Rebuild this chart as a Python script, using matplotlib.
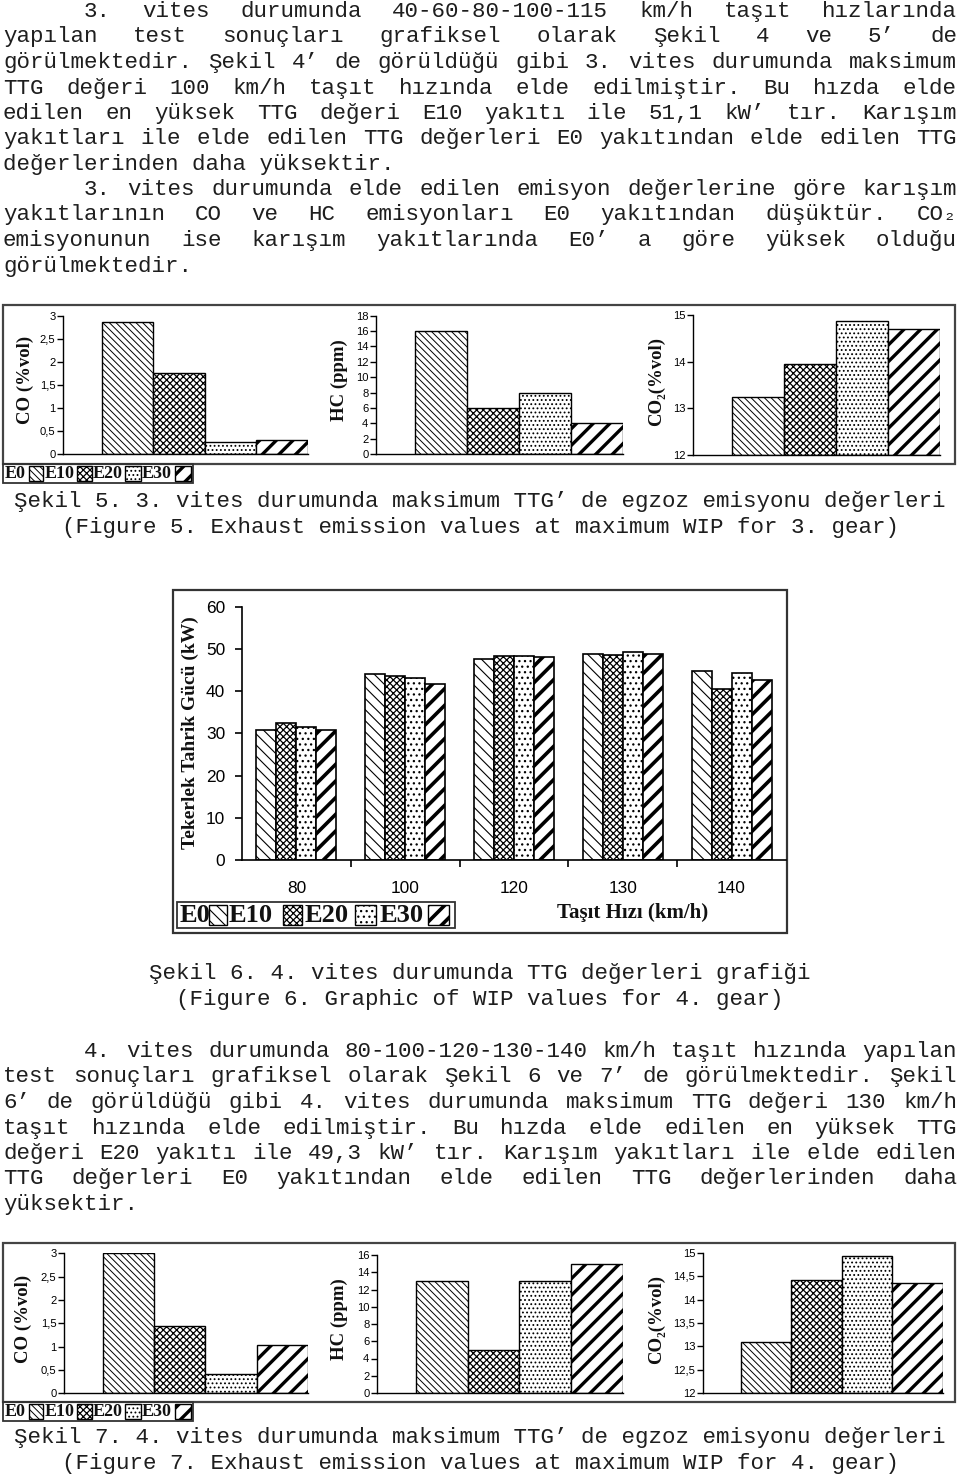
import matplotlib
matplotlib.use('Agg')
import matplotlib.pyplot as plt
from matplotlib.patches import Rectangle
import numpy as np

plt.rcParams['text.hinting'] = 'native'
plt.rcParams['text.hinting_factor'] = 8

# --- data ---
fuels = ['E0', 'E10', 'E20', 'E30']
speeds = ['80', '100', '120', '130', '140']

co_3 = [2.87, 1.76, 0.25, 0.30]
hc_3 = [16, 6, 8, 4]
co2_3 = [13.25, 13.96, 14.88, 14.71]

co_4 = [3.0, 1.44, 0.41, 1.03]
hc_4 = [13, 5, 13, 15]
co2_4 = [13.09, 14.43, 14.94, 14.35]

ttg_E0 = [30.75, 44.0, 47.6, 48.7, 44.7]
ttg_E10 = [32.4, 43.6, 48.4, 48.5, 40.6]
ttg_E20 = [31.6, 43.1, 48.4, 49.3, 44.3]
ttg_E30 = [30.75, 41.7, 48.0, 48.7, 42.7]

para1 = ["3. vites durumunda 40-60-80-100-115 km/h taşıt hızlarında",
         "yapılan test sonuçları grafiksel olarak Şekil 4 ve 5’ de",
         "görülmektedir. Şekil 4’ de görüldüğü gibi 3. vites durumunda maksimum",
         "TTG değeri 100 km/h taşıt hızında elde edilmiştir. Bu hızda elde",
         "edilen en yüksek TTG değeri E10 yakıtı ile 51,1 kW’ tır. Karışım",
         "yakıtları ile elde edilen TTG değerleri E0 yakıtından elde edilen TTG",
         "değerlerinden daha yüksektir."]
para2 = ["3. vites durumunda elde edilen emisyon değerlerine göre karışım",
         "yakıtlarının CO ve HC emisyonları E0 yakıtından düşüktür. CO₂",
         "emisyonunun ise karışım yakıtlarında E0’ a göre yüksek olduğu",
         "görülmektedir."]
para3 = ["4. vites durumunda 80-100-120-130-140 km/h taşıt hızında yapılan",
         "test sonuçları grafiksel olarak Şekil 6 ve 7’ de görülmektedir. Şekil",
         "6’ de görüldüğü gibi 4. vites durumunda maksimum TTG değeri 130 km/h",
         "taşıt hızında elde edilmiştir. Bu hızda elde edilen en yüksek TTG",
         "değeri E20 yakıtı ile 49,3 kW’ tır. Karışım yakıtları ile elde edilen",
         "TTG değerleri E0 yakıtından elde edilen TTG değerlerinden daha",
         "yüksektir."]

cap5 = ["Şekil 5. 3. vites durumunda maksimum TTG’ de egzoz emisyonu değerleri",
        "(Figure 5. Exhaust emission values at maximum WIP for 3. gear)"]
cap6 = ["Şekil 6. 4. vites durumunda TTG değerleri grafiği",
        "(Figure 6. Graphic of WIP values for 4. gear)"]
cap7 = ["Şekil 7. 4. vites durumunda maksimum TTG’ de egzoz emisyonu değerleri",
        "(Figure 7. Exhaust emission values at maximum WIP for 4. gear)"]

W, H = 960, 1475
fig = plt.figure(figsize=(9.6, 14.75), dpi=100)
fig.patch.set_facecolor('white')

ov = fig.add_axes([0, 0, 1, 1])
ov.set_xlim(0, W)
ov.set_ylim(H, 0)
ov.axis('off')

mono = ['Liberation Mono', 'DejaVu Sans Mono']
serif = ['Liberation Serif', 'DejaVu Serif']
sans = ['Liberation Sans', 'DejaVu Sans']
FS = 16.2
CW = 0.6 * FS * 100 / 72
TXT = '#1e1e1e'

small_hatch = ['\\\\\\\\\\', 'xxxxx', '....', '//']
small_hlw = [0.7, 0.9, 0.8, 2.4]
big_hatch = ['\\\\\\', 'xxxxx', '...', '//']
big_hlw = [0.8, 0.9, 0.9, 2.6]


def px_axes(x0, y0, x1, y1):
    return fig.add_axes([x0 / W, 1 - y1 / H, (x1 - x0) / W, (y1 - y0) / H])


def set_hlw(patches, lw):
    for p in patches:
        if hasattr(p, 'set_hatch_linewidth'):
            p.set_hatch_linewidth(lw)


def paragraph(lines, y0, step=25.5, indent=84, x1=957):
    for k, line in enumerate(lines):
        yb = round(y0 + k * step + 7)
        x0 = indent if k == 0 else 3
        words = line.split(' ')
        if k == len(lines) - 1:
            ov.text(x0, yb, line, family=mono, fontsize=FS, color=TXT, va='baseline', ha='left')
            continue
        # justified: spread the leftover width over the word gaps
        total = sum(len(w) for w in words) * CW
        gap = (x1 - x0 - total) / (len(words) - 1)
        x = x0
        for w in words:
            ov.text(x, yb, w, family=mono, fontsize=FS, color=TXT, va='baseline', ha='left')
            x += len(w) * CW + gap


def caption(lines, y0, step=26):
    for k, line in enumerate(lines):
        ov.text(480, round(y0 + k * step + 7), line, family=mono, fontsize=FS, color=TXT,
                va='baseline', ha='center')


def legend(box, items, fs, sy0, sy1):
    x0, y0, x1, y1 = box
    ov.add_patch(Rectangle((x0, y0), x1 - x0, y1 - y0, fill=False, ec='#333', lw=1.3))
    for (tx, sx0, sx1), name, h, lw in zip(items, fuels, small_hatch, small_hlw):
        ov.text(tx, (y0 + y1) / 2 + 0.5, name, family=serif, fontweight='bold', fontsize=fs,
                va='center', ha='left', color='#111')
        with plt.rc_context({'hatch.linewidth': lw}):
            r = Rectangle((sx0, sy0), sx1 - sx0, sy1 - sy0, fc='white', ec='black', lw=1, hatch=h)
        set_hlw([r], lw)
        ov.add_patch(r)


def small_chart(box, vals, ylim, ticks, ticklabels, ylabel, lab_xy):
    ax = px_axes(*box)
    base = ylim[0]
    for i, v in enumerate(vals):
        with plt.rc_context({'hatch.linewidth': small_hlw[i]}):
            b = ax.bar(i, v - base, bottom=base, width=1, color='white', edgecolor='black',
                       linewidth=1, hatch=small_hatch[i])
        set_hlw(b.patches, small_hlw[i])
    ax.set_xlim(-1.25, 3.5)
    ax.set_ylim(ylim)
    ax.set_xticks([])
    ax.set_yticks(ticks)
    ax.set_yticklabels(ticklabels, family=sans, fontsize=8)
    ax.tick_params(axis='y', direction='out', length=4, width=1, pad=1.5)
    for s in ['top', 'right']:
        ax.spines[s].set_visible(False)
    ax.spines['left'].set_linewidth(1)
    ax.spines['bottom'].set_linewidth(1)
    ax.patch.set_alpha(0)
    ov.text(lab_xy[0], lab_xy[1], ylabel, family=serif, fontweight='bold', fontsize=13.5,
            rotation=90, ha='center', va='center', color='#111')
    return ax


def co_ticks():
    t = [0, 0.5, 1, 1.5, 2, 2.5, 3]
    return t, [f'{v:g}'.replace('.', ',') for v in t]


# --- text ---
paragraph(para1, 10)
paragraph(para2, 188)
caption(cap5, 500)
caption(cap6, 972)
paragraph(para3, 1050)
caption(cap7, 1436)

# --- Figure 5 ---
ov.add_patch(Rectangle((3, 305), 952, 159, fill=False, ec='#444', lw=1.6))
t, tl = co_ticks()
small_chart((63, 315.7, 308, 454), co_3, (0, 3), t, tl, 'CO (%vol)', (25, 380))
t = list(range(0, 19, 2))
small_chart((376, 315.7, 623, 454), hc_3, (0, 18), t, [str(v) for v in t], 'HC (ppm)', (339, 380))
small_chart((693, 315, 940, 455), co2_3, (12, 15), [12, 13, 14, 15], ['12', '13', '14', '15'],
            'CO₂(%vol)', (657, 382))
legend((3, 464, 193, 483), [(5, 29, 43), (45, 77, 92), (93, 125, 141), (142, 175, 191)], 13, 466, 481)

# --- Figure 6 ---
ov.add_patch(Rectangle((173, 590), 614, 343, fill=False, ec='#333', lw=1.6))
ax = px_axes(242, 606.7, 786, 860)
series = [ttg_E0, ttg_E10, ttg_E20, ttg_E30]
bw = 0.184
x = np.arange(len(speeds))
for k, vals in enumerate(series):
    with plt.rc_context({'hatch.linewidth': big_hlw[k]}):
        b = ax.bar(x + (k - 1.5) * bw, vals, width=bw, color='white', edgecolor='black',
                   linewidth=1.2, hatch=big_hatch[k])
    set_hlw(b.patches, big_hlw[k])
ax.set_xlim(-0.5, 4.5)
ax.set_ylim(0, 60)
ax.set_yticks(range(0, 61, 10))
ax.set_yticklabels([str(v) for v in range(0, 61, 10)], family=sans, fontsize=12.5)
ax.tick_params(axis='y', direction='out', length=5, width=1.2, pad=7)
ax.set_xticks([0.5, 1.5, 2.5, 3.5])
ax.set_xticklabels([])
ax.tick_params(axis='x', which='major', direction='out', length=5, width=1.2)
ax.set_xticks(x, minor=True)
ax.set_xticklabels(speeds, minor=True, family=sans, fontsize=12.5)
ax.tick_params(axis='x', which='minor', length=0, pad=15)
for s in ['top', 'right']:
    ax.spines[s].set_visible(False)
ax.spines['left'].set_linewidth(1.2)
ax.spines['bottom'].set_linewidth(1.2)
ax.patch.set_alpha(0)
ov.text(190, 733, 'Tekerlek Tahrik Gücü (kW)', family=serif, fontweight='bold', fontsize=14,
        rotation=90, ha='center', va='center', color='#111')
ov.text(633, 912, 'Taşıt Hızı (km/h)', family=serif, fontweight='bold', fontsize=15,
        ha='center', va='center', color='#111')

ov.add_patch(Rectangle((177, 902), 278, 26, fill=False, ec='#333', lw=1.3))
big_items = [(180, 209, 227), (229, 283, 302), (305, 355, 376), (380, 428, 449)]
for (tx, sx0, sx1), name, h, lw in zip(big_items, fuels, big_hatch, big_hlw):
    ov.text(tx, 916, name, family=serif, fontweight='bold', fontsize=19, va='center',
            ha='left', color='#111')
    with plt.rc_context({'hatch.linewidth': lw}):
        r = Rectangle((sx0, 905), sx1 - sx0, 20, fc='white', ec='black', lw=1, hatch=h)
    set_hlw([r], lw)
    ov.add_patch(r)

# --- Figure 7 ---
ov.add_patch(Rectangle((3, 1243), 952, 159, fill=False, ec='#444', lw=1.6))
t, tl = co_ticks()
small_chart((64, 1253.3, 308, 1393.3), co_4, (0, 3), t, tl, 'CO (%vol)', (24, 1319))
t = list(range(0, 17, 2))
small_chart((377, 1255, 623, 1393), hc_4, (0, 16), t, [str(v) for v in t], 'HC (ppm)', (339, 1319))
t = [12, 12.5, 13, 13.5, 14, 14.5, 15]
small_chart((703, 1253, 943, 1393), co2_4, (12, 15), t, [f'{v:g}'.replace('.', ',') for v in t],
            'CO₂(%vol)', (657, 1320))
legend((3, 1402, 193, 1421), [(5, 29, 43), (45, 77, 92), (93, 125, 141), (142, 175, 191)], 13, 1404, 1419)

fig.savefig('out.png', dpi=100)
